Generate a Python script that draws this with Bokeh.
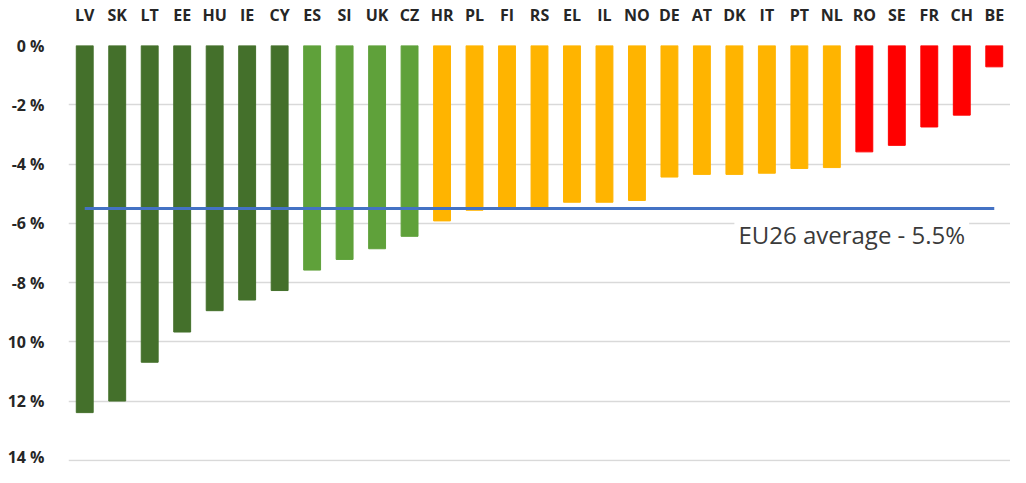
from bokeh.plotting import figure
from bokeh.models import Range1d, Label, ColumnDataSource, FixedTicker
from bokeh.embed import file_html
from bokeh.resources import INLINE

countries = ["LV", "SK", "LT", "EE", "HU", "IE", "CY", "ES", "SI", "UK", "CZ",
             "HR", "PL", "FI", "RS", "EL", "IL", "NO", "DE", "AT", "DK", "IT",
             "PT", "NL", "RO", "SE", "FR", "CH", "BE"]
change = [-12.39, -12.0, -10.69, -9.67, -8.95, -8.59, -8.27, -7.58, -7.22, -6.86, -6.44,
          -5.92, -5.56, -5.49, -5.49, -5.29, -5.29, -5.23, -4.44, -4.35, -4.35, -4.31,
          -4.15, -4.12, -3.59, -3.37, -2.75, -2.35, -0.72]
group = ["dark"] * 7 + ["light"] * 4 + ["amber"] * 13 + ["red"] * 5
average = -5.5
tick_values = [0, -2, -4, -6, -8, -10, -12, -14]
tick_labels = ["0 %", "-2 %", "-4 %", "-6 %", "-8 %", "10 %", "12 %", "14 %"]

palette = {"dark": "#44702B", "light": "#5FA13A", "amber": "#FFB400", "red": "#FF0000"}
colors = [palette[g] for g in group]

src = ColumnDataSource(dict(x=countries, top=[0] * len(change), bottom=change, color=colors))

p = figure(x_range=countries, y_range=Range1d(-14.04, 0), width=1010, height=467,
           x_axis_location="above", output_backend="svg", toolbar_location=None,
           min_border_left=68, min_border_right=0, min_border_top=45, min_border_bottom=6)

p.vbar(x="x", top="top", bottom="bottom", width=0.52, color="color", source=src)
p.line(x=[countries[0], countries[-1]], y=[average, average], line_width=3, color="#4472C4")

lbl = Label(x=20.5, y=-6.37, text=f"EU26 average - {abs(average)}%", text_font="Open Sans",
            text_font_size="24px", text_color="#3A3A3A", text_baseline="middle",
            background_fill_color="white", padding=4)
p.add_layout(lbl)

p.outline_line_color = None
p.xgrid.grid_line_color = None
p.ygrid.grid_line_color = "#D9D9D9"
p.ygrid.grid_line_width = 1.5

p.yaxis.ticker = FixedTicker(ticks=tick_values)
p.yaxis.major_label_overrides = {v: l for v, l in zip(tick_values, tick_labels)}
for ax in (p.xaxis[0], p.yaxis[0]):
    ax.axis_line_color = None
    ax.major_tick_line_color = None
    ax.minor_tick_line_color = None
    ax.major_label_text_font = "Open Sans"
    ax.major_label_text_font_style = "bold"
    ax.major_label_text_font_size = "16px"
    ax.major_label_text_color = "#262626"
p.yaxis.major_label_standoff = 18
p.xaxis.major_label_standoff = 14

open("out.html", "w").write(file_html(p, INLINE))
